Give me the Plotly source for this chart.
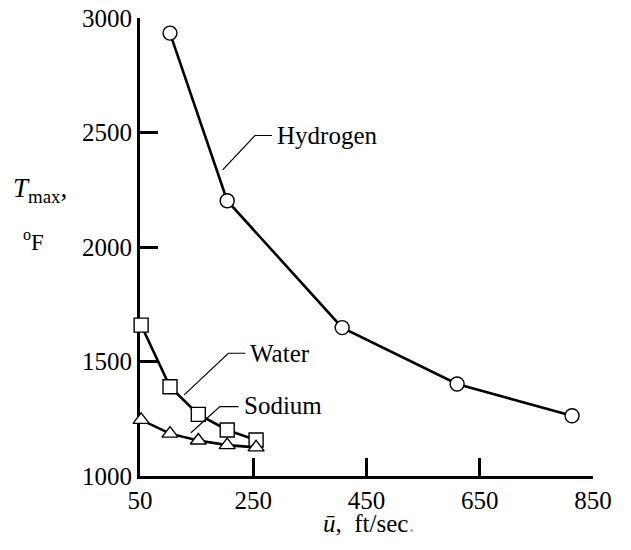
import plotly.graph_objects as go

# Maximum temperature vs. mean coolant velocity for three coolants
hydrogen_u = [103, 204, 407, 610, 813]
hydrogen_t = [2934, 2202, 1648, 1402, 1263]
water_u = [52, 103, 153, 204, 255]
water_t = [1659, 1390, 1269, 1201, 1157]
sodium_u = [52, 103, 153, 204, 255]
sodium_t = [1245, 1185, 1155, 1135, 1125]

x_ticks = [50, 250, 450, 650, 850]
y_ticks = [1000, 1500, 2000, 2500, 3000]

FONT = "'Times New Roman', 'Liberation Serif', 'DejaVu Serif', serif"

fig = go.Figure()


def add_series(u, t, symbol, size):
    fig.add_trace(go.Scatter(
        x=u, y=t, mode="lines+markers",
        line=dict(color="black", width=2.6),
        marker=dict(symbol=symbol, size=size, color="white",
                    line=dict(color="black", width=1.4)),
        cliponaxis=False, showlegend=False,
    ))


add_series(hydrogen_u, hydrogen_t, "circle", 14)
add_series(water_u, water_t, "square", 14)
add_series(sodium_u, sodium_t, "triangle-up", 14)

# series labels with leader lines (data coordinates)
labels = [
    ("Hydrogen", [(196, 2337), (253, 2487), (283, 2487)], (289, 2487)),
    ("Water", [(128, 1354), (206, 1536), (236, 1536)], (241, 1536)),
    ("Sodium", [(140, 1189), (191, 1303), (224, 1303)], (230, 1308)),
]
for text, pts, (tx, ty) in labels:
    path = "M " + " L ".join(f"{x},{y}" for x, y in pts)
    fig.add_shape(type="path", path=path, xref="x", yref="y",
                  line=dict(color="black", width=1.2))
    fig.add_annotation(x=tx, y=ty, xref="x", yref="y", text=text,
                       showarrow=False, xanchor="left", yanchor="middle",
                       font=dict(family=FONT, size=25, color="black"))

# axis titles
fig.add_annotation(x=-0.285, y=0.625, xref="paper", yref="paper",
                   text="<i>T</i><sub>max</sub>,", showarrow=False,
                   xanchor="left", yanchor="middle",
                   font=dict(family=FONT, size=27, color="black"))
fig.add_annotation(x=-0.263, y=0.515, xref="paper", yref="paper",
                   text="<sup>o</sup>F", showarrow=False,
                   xanchor="left", yanchor="middle",
                   font=dict(family=FONT, size=23, color="black"))
fig.add_annotation(x=0.505, y=-0.103, xref="paper", yref="paper",
                   text="<i>ū</i>,  ft/sec<span style='color:#b0b0b0'>.</span>",
                   showarrow=False, xanchor="center", yanchor="middle",
                   font=dict(family=FONT, size=25, color="black"))

axis_common = dict(
    showline=True, linecolor="black", linewidth=3,
    ticks="inside", ticklen=18, tickwidth=2.5, tickcolor="black",
    showgrid=False, zeroline=False, layer="below traces",
    automargin=False,
    tickfont=dict(family=FONT, size=25, color="black"),
)

fig.update_xaxes(range=[50, 850], tickvals=x_ticks,
                 ticktext=[str(v) for v in x_ticks], **axis_common)
fig.update_yaxes(range=[1000, 3000], tickvals=y_ticks,
                 ticktext=[str(v) for v in y_ticks], **axis_common)

fig.update_layout(
    width=631, height=550, autosize=False,
    margin=dict(l=140, r=38, t=18, b=74),
    plot_bgcolor="white", paper_bgcolor="white",
    font=dict(family=FONT, color="black"),
)

fig.write_html("out.html")
